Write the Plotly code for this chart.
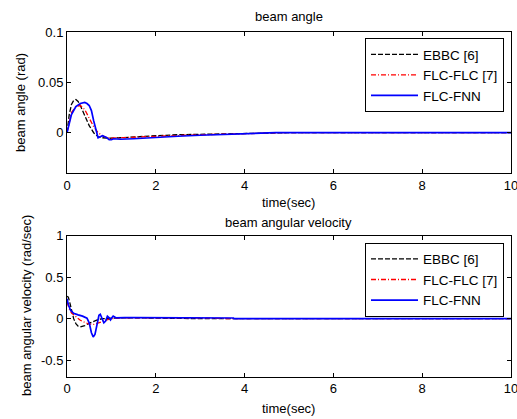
import plotly.graph_objects as go

# ---- data: beam angle (rad) ----
t_ang_ebbc = [0, 0.05, 0.1, 0.15, 0.2, 0.25, 0.3, 0.4, 0.5, 0.6, 0.7, 0.8, 0.9, 1.0, 1.2, 1.5, 2, 2.5, 3, 3.5, 4, 5, 10]
ang_ebbc = [0, 0.018, 0.028, 0.032, 0.033, 0.031, 0.027, 0.017, 0.007, 0.0, -0.004, -0.005, -0.0055, -0.0055, -0.005, -0.0045, -0.003, -0.002, -0.0015, -0.001, -0.0005, 0, 0]

t_ang_flc = [0, 0.05, 0.1, 0.2, 0.3, 0.4, 0.5, 0.6, 0.7, 0.8, 0.9, 1.0, 1.2, 1.5, 2, 3, 4, 4.8, 10]
ang_flc = [0, 0.012, 0.02, 0.026, 0.027, 0.023, 0.015, 0.006, 0.0, -0.003, -0.005, -0.0055, -0.005, -0.0045, -0.0035, -0.002, -0.001, 0, 0]

t_ang_fnn = [0, 0.05, 0.1, 0.2, 0.3, 0.4, 0.45, 0.5, 0.55, 0.6, 0.65, 0.7, 0.75, 0.8, 0.85, 0.9, 0.95, 1.0, 1.05, 1.2, 1.5, 2, 2.5, 3, 4, 4.7, 10]
ang_fnn = [0, 0.01, 0.018, 0.026, 0.029, 0.030, 0.029, 0.027, 0.022, 0.012, 0.002, -0.005, -0.004, -0.003, -0.004, -0.005, -0.007, -0.007, -0.006, -0.0065, -0.006, -0.0045, -0.0035, -0.0025, -0.001, 0, 0]

# ---- data: beam angular velocity (rad/sec) ----
t_vel_ebbc = [0, 0.03, 0.06, 0.1, 0.15, 0.2, 0.25, 0.3, 0.35, 0.4, 0.5, 0.6, 0.7, 0.8, 1.0, 1.2, 1.5, 2, 2.7, 3, 10]
vel_ebbc = [0.27, 0.26, 0.2, 0.1, 0.0, -0.06, -0.09, -0.1, -0.096, -0.085, -0.055, -0.03, -0.012, 0, 0.008, 0.01, 0.01, 0.008, 0.005, 0, 0]

t_vel_flc = [0, 0.05, 0.1, 0.2, 0.3, 0.4, 0.5, 0.6, 0.7, 0.8, 0.9, 1.0, 1.2, 1.5, 2, 3, 3.75, 10]
vel_flc = [0.2, 0.12, 0.07, 0.02, -0.02, -0.045, -0.065, -0.07, -0.055, -0.035, -0.015, 0, 0.008, 0.01, 0.01, 0.008, 0, 0]

t_vel_fnn = [0, 0.03, 0.08, 0.15, 0.25, 0.35, 0.45, 0.5, 0.55, 0.59, 0.63, 0.68, 0.72, 0.75, 0.79, 0.83, 0.87, 0.91, 0.95, 0.98, 1.01, 1.04, 1.1, 1.2, 1.3, 1.5, 2, 3, 3.75, 3.76, 10]
vel_fnn = [0.24, 0.17, 0.1, 0.065, 0.045, 0.03, 0.005, -0.05, -0.17, -0.22, -0.19, -0.05, 0.04, 0.053, 0.01, -0.05, -0.03, 0.03, 0.01, -0.016, 0.01, 0.03, 0.01, 0.015, 0.012, 0.012, 0.012, 0.01, 0.008, 0, 0]

x_ticks = [0, 2, 4, 6, 8, 10]
ang_ticks = [0, 0.05, 0.1]
ang_ticktext = ["0", "0.05", "0.1"]
vel_ticks = [-0.5, 0, 0.5, 1]
vel_ticktext = ["-0.5", "0", "0.5", "1"]

names = ["EBBC [6]", "FLC-FLC [7]", "FLC-FNN"]
colors = ["black", "red", "blue"]
dashes = ["5px,2px", "5px,2px,1px,2px", "solid"]
widths = [1.3, 1.3, 1.7]

FONT = "Liberation Sans, Arial, sans-serif"
W, H = 517, 419

fig = go.Figure()
top_sets = [(t_ang_ebbc, ang_ebbc), (t_ang_flc, ang_flc), (t_ang_fnn, ang_fnn)]
bot_sets = [(t_vel_ebbc, vel_ebbc), (t_vel_flc, vel_flc), (t_vel_fnn, vel_fnn)]
for i, (tx, vy) in enumerate(top_sets):
    fig.add_trace(go.Scatter(x=tx, y=vy, mode="lines", name=names[i],
                             line=dict(color=colors[i], dash=dashes[i], width=widths[i]),
                             xaxis="x", yaxis="y", legend="legend"))
for i, (tx, vy) in enumerate(bot_sets):
    fig.add_trace(go.Scatter(x=tx, y=vy, mode="lines", name=names[i],
                             line=dict(color=colors[i], dash=dashes[i], width=widths[i]),
                             xaxis="x2", yaxis="y2", legend="legend2"))

axis_common = dict(showline=True, linecolor="black", linewidth=1, mirror="ticks",
                   ticks="inside", ticklen=4, tickcolor="black", showgrid=False,
                   zeroline=False, automargin=False, ticklabeloverflow="allow",
                   tickfont=dict(size=13, color="black", family=FONT))

xd = [67 / W, 511 / W]
xc = (xd[0] + xd[1]) / 2
legend_common = dict(xanchor="right", yanchor="top", bordercolor="black", borderwidth=1,
                     bgcolor="white", font=dict(size=13.5, family=FONT, color="black"),
                     tracegroupgap=0, itemwidth=47)


def ann(text, x, y, angle=0):
    return dict(text=text, x=x, y=y, xref="paper", yref="paper", showarrow=False,
                textangle=angle, font=dict(size=13, family=FONT, color="black"),
                xanchor="center", yanchor="middle")


fig.update_layout(
    width=W, height=H,
    margin=dict(l=0, r=0, t=0, b=0),
    paper_bgcolor="white", plot_bgcolor="white",
    font=dict(family=FONT, color="black", size=13),
    showlegend=True,
    xaxis=dict(domain=xd, anchor="y", range=[0, 10], tickvals=x_ticks, **axis_common),
    yaxis=dict(domain=[1 - 173 / H, 1 - 32 / H], anchor="x", range=[-0.04, 0.1],
               tickvals=ang_ticks, ticktext=ang_ticktext, **axis_common),
    xaxis2=dict(domain=xd, anchor="y2", range=[0, 10], tickvals=x_ticks, **axis_common),
    yaxis2=dict(domain=[1 - 376.7 / H, 1 - 235.7 / H], anchor="x2", range=[-0.7, 1],
                tickvals=vel_ticks, ticktext=vel_ticktext, **axis_common),
    legend=dict(x=504 / W, y=1 - 38 / H, **legend_common),
    legend2=dict(x=504 / W, y=1 - 242.7 / H, **legend_common),
    annotations=[
        ann("beam angle", xc, 1 - 17 / H),
        ann("time(sec)", xc, 1 - 203 / H),
        ann("beam angle (rad)", 20.5 / W, 1 - 102.5 / H, -90),
        ann("beam angular velocity", xc, 1 - 222 / H),
        ann("time(sec)", xc, 1 - 408 / H),
        ann("beam angular velocity (rad/sec)", 26 / W, 1 - 306 / H, -90),
    ],
)

fig.write_html("out.html", config={"displayModeBar": False},
               post_script="document.body.style.margin='0';")
